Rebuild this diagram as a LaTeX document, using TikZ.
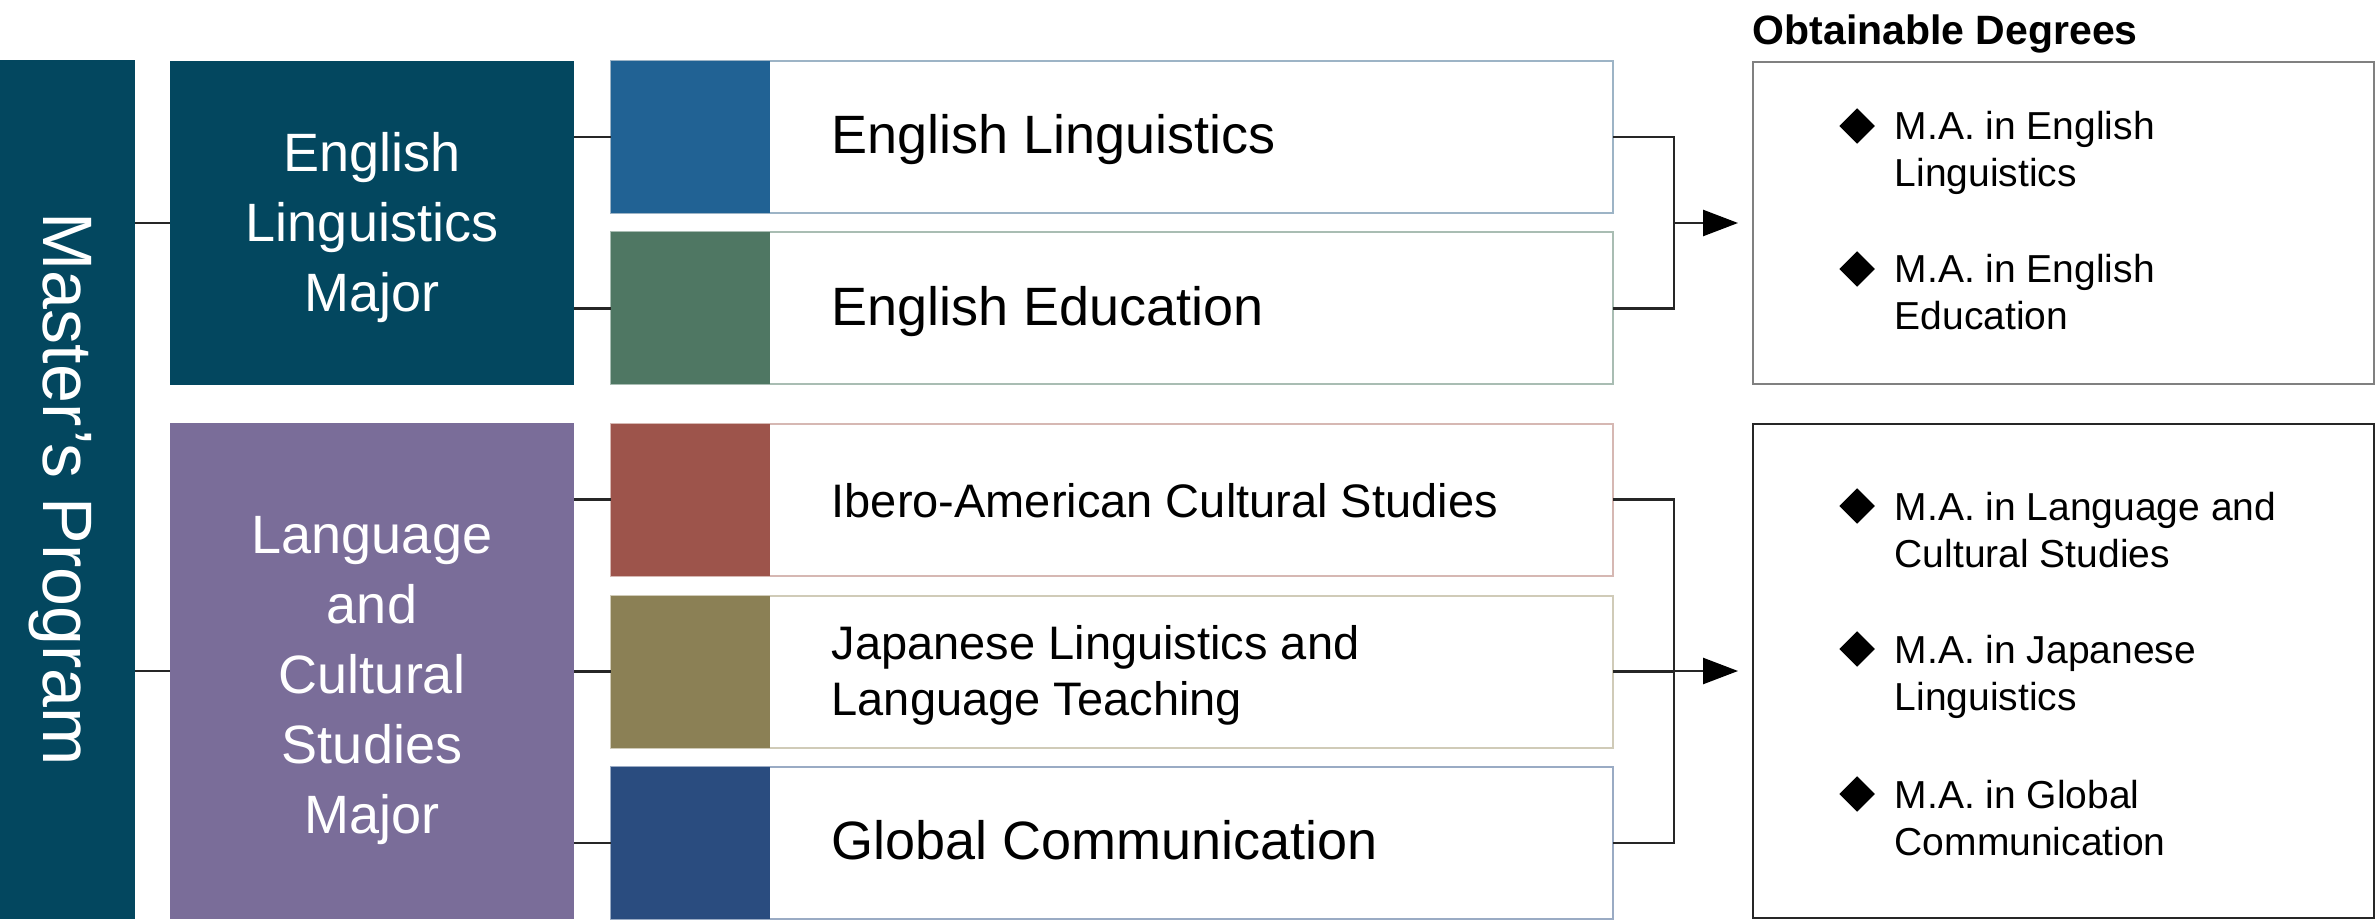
\documentclass[tikz,border=0pt]{standalone}
\usepackage{fontspec}
\setmainfont{Liberation Sans}
\usetikzlibrary{shapes.geometric,arrows.meta}

\definecolor{progteal}{HTML}{03475F}
\definecolor{majorpurple}{HTML}{7A6D99}
\definecolor{elblue}{HTML}{216294}
\definecolor{eegreen}{HTML}{4F7763}
\definecolor{ibred}{HTML}{9D544B}
\definecolor{jpolive}{HTML}{8B8055}
\definecolor{gcnavy}{HTML}{2A4C7F}
\definecolor{elline}{HTML}{9DB4C6}
\definecolor{eeline}{HTML}{A9BDB3}
\definecolor{ibline}{HTML}{D6B8B3}
\definecolor{jpline}{HTML}{D0CBB8}
\definecolor{gcline}{HTML}{9AABC4}

\newcommand{\majorfont}{\fontsize{16.2pt}{21pt}\selectfont}
\newcommand{\coursebig}{\fontsize{16.2pt}{19pt}\selectfont}
\newcommand{\coursesmall}{\fontsize{14.1pt}{16.8pt}\selectfont}
\newcommand{\degfont}{\fontsize{11.7pt}{14.1pt}\selectfont}

\tikzset{
  block/.style={inner sep=0pt, outer sep=0pt},
  blocktext/.style={anchor=base, inner sep=0pt, text=white, align=center, font=\majorfont},
  course/.style={draw=#1, line width=0.6pt, fill=white, minimum width=300.6pt, minimum height=45.6pt, inner sep=0pt, outer sep=0pt},
  swatch/.style={fill=#1, minimum width=47.7pt, minimum height=45.6pt, inner sep=0pt, outer sep=0pt, anchor=west},
  coursetext/.style={anchor=base west, inner sep=0pt, align=left},
  degbox/.style={draw=#1, line width=0.6pt, fill=white, minimum width=186.3pt, inner sep=0pt, outer sep=0pt},
  bullet/.style={diamond, fill=black, minimum width=10.8pt, minimum height=10.8pt, inner sep=0pt},
  degtext/.style={anchor=base west, inner sep=0pt, align=left, font=\degfont},
  link/.style={draw=black!85, line width=0.75pt},
  degarrow/.style={link, -{Triangle[length=10.5pt,width=7.8pt,color=black]}, shorten >=4.5pt},
}

\begin{document}
\begin{tikzpicture}[x=0.3pt,y=-0.3pt]
        \useasboundingbox (0,0) rectangle (2376,920);

        \node[block, fill=progteal, minimum width=40.5pt, minimum height=257.7pt] (mp) at (67.5,489.5) {};% program bar
        \node[rotate=-90, anchor=base, inner sep=0pt, text=white, font=\fontsize{21pt}{25pt}\selectfont] (mptxt) at (43,489.5) {Master’s Program};

        \node[block, fill=progteal, minimum width=121.2pt, minimum height=97.2pt] (elm) at (372,223) {};
        \node[block, fill=majorpurple, minimum width=121.2pt, minimum height=148.8pt] (lcm) at (372,671) {};
        \node[blocktext] (elmtxt) at (372,312) {English\\Linguistics\\Major};% base = last line
        \node[blocktext] (lcmtxt) at (372,833) {Language\\and\\Cultural\\Studies\\Major};

        \node[course=elline] (el) at (1112,137) {};
        \node[course=eeline] (ee) at (1112,308.5) {};
        \node[course=ibline] (ib) at (1112,499.5) {};
        \node[course=jpline] (jp) at (1112,671.5) {};
        \node[course=gcline] (gc) at (1112,843) {};

        \node[swatch=elblue] (elsw) at (el.west) {};
        \node[swatch=eegreen] (eesw) at (ee.west) {};
        \node[swatch=ibred] (ibsw) at (ib.west) {};
        \node[swatch=jpolive] (jpsw) at (jp.west) {};
        \node[swatch=gcnavy] (gcsw) at (gc.west) {};

        \node[coursetext, font=\coursebig] (eltxt) at (831,154) {English Linguistics};
        \node[coursetext, font=\coursebig] (eetxt) at (831,326) {English Education};
        \node[coursetext, font=\coursesmall] (ibtxt) at (831,517) {Ibero-American Cultural Studies};
        \node[coursetext, font=\coursesmall] (jptxt) at (831,715) {Japanese Linguistics and\\Language Teaching};
        \node[coursetext, font=\coursebig] (gctxt) at (831,859) {Global Communication};

        \draw[link] (mp.east |- elm.west) -- (elm.west);
        \draw[link] (mp.east |- lcm.west) -- (lcm.west);
        \draw[link] (elm.east |- el.west) -- (el.west);
        \draw[link] (elm.east |- ee.west) -- (ee.west);
        \draw[link] (lcm.east |- ib.west) -- (ib.west);
        \draw[link] (lcm.east |- jp.west) -- (jp.west);
        \draw[link] (lcm.east |- gc.west) -- (gc.west);

        \node[anchor=base west, inner sep=0pt, font=\bfseries\fontsize{12.3pt}{14pt}\selectfont] (degtitle) at (1752,45) {Obtainable Degrees};
        \node[degbox=black!50, minimum height=96.6pt] (deg1) at (2063.5,223) {};
        \node[degbox=black!85, minimum height=148.2pt] (deg2) at (2063.5,671) {};

        \coordinate (brk1) at (1674,223);
        \coordinate (brk2) at (1674,671);
        \draw[link] (el.east) -| (brk1) |- (ee.east);% top bracket
        \draw[link] (ib.east) -| (brk2) |- (gc.east);% bottom bracket
        \draw[link] (jp.east) -- (jp.east -| brk2);
        \draw[degarrow] (brk1) -- (deg1.west);
        \draw[degarrow] (brk2) -- (deg2.west);

        \node[bullet] (b1) at (1857,126) {};
        \node[degtext] (d1) at (1894,187) {M.A. in English\\Linguistics};
        \node[bullet] (b2) at (1857,269) {};
        \node[degtext] (d2) at (1894,330) {M.A. in English\\Education};
        \node[bullet] (b3) at (1857,506) {};
        \node[degtext] (d3) at (1894,567) {M.A. in Language and\\Cultural Studies};
        \node[bullet] (b4) at (1857,649) {};
        \node[degtext] (d4) at (1894,710) {M.A. in Japanese\\Linguistics};
        \node[bullet] (b5) at (1857,794) {};
        \node[degtext] (d5) at (1894,855) {M.A. in Global\\Communication};

    \end{tikzpicture}
\end{document}
